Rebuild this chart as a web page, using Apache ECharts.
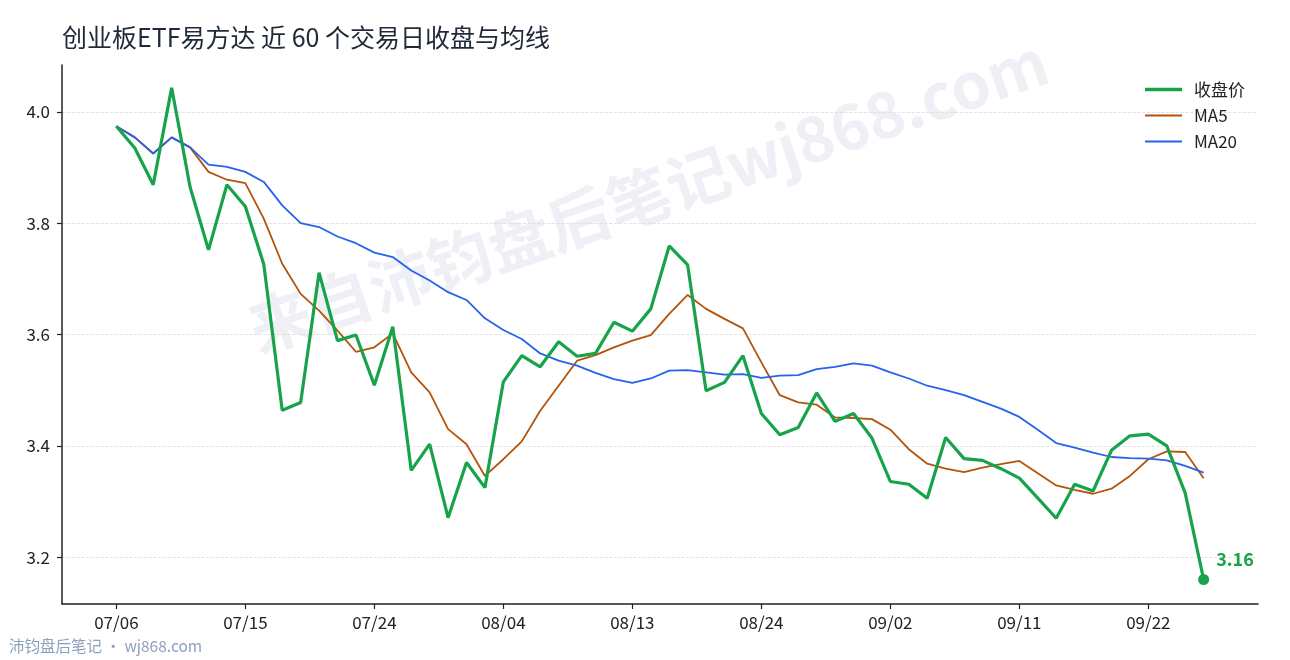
<!DOCTYPE html>
<html>
	<head>
		<meta charset="UTF-8">
		<title>创业板ETF易方达 近 60 个交易日收盘与均线</title>
		<style>
			html, body { margin: 0; padding: 0; background: #fff; }
			#main { width: 1290px; height: 660px; }
		</style>
	</head>
	<body>
		<div id="main"></div>

		<!--引入Echart-->
		<script src="https://cdn.jsdelivr.net/npm/echarts@6/dist/echarts.min.js"></script>
		<script type="text/javascript">
			// 交易日（2026 年 7 月 6 日起的 60 个工作日）
			var dates = [
				'07/06','07/07','07/08','07/09','07/10',
				'07/13','07/14','07/15','07/16','07/17',
				'07/20','07/21','07/22','07/23','07/24',
				'07/27','07/28','07/29','07/30','07/31',
				'08/03','08/04','08/05','08/06','08/07',
				'08/10','08/11','08/12','08/13','08/14',
				'08/17','08/18','08/19','08/20','08/21',
				'08/24','08/25','08/26','08/27','08/28',
				'08/31','09/01','09/02','09/03','09/04',
				'09/07','09/08','09/09','09/10','09/11',
				'09/14','09/15','09/16','09/17','09/18',
				'09/21','09/22','09/23','09/24','09/25'
			];
			// 收盘价
			var closes = [
				3.974, 3.935, 3.869, 4.043, 3.865, 3.752, 3.869, 3.830, 3.726, 3.464,
				3.478, 3.711, 3.589, 3.599, 3.509, 3.614, 3.356, 3.403, 3.271, 3.370,
				3.325, 3.515, 3.562, 3.542, 3.587, 3.561, 3.566, 3.622, 3.606, 3.646,
				3.759, 3.725, 3.499, 3.514, 3.562, 3.458, 3.420, 3.433, 3.495, 3.444,
				3.458, 3.414, 3.336, 3.331, 3.306, 3.415, 3.377, 3.374, 3.359, 3.342,
				3.306, 3.270, 3.331, 3.319, 3.392, 3.418, 3.421, 3.400, 3.315, 3.160
			];
			// MA5
			var ma5 = [
				3.974, 3.954, 3.925, 3.954, 3.936, 3.892, 3.878, 3.872, 3.808, 3.727,
				3.673, 3.643, 3.607, 3.569, 3.577, 3.602, 3.532, 3.496, 3.430, 3.403,
				3.346, 3.376, 3.408, 3.463, 3.508, 3.553, 3.563, 3.577, 3.589, 3.599,
				3.637, 3.671, 3.646, 3.628, 3.611, 3.550, 3.491, 3.478, 3.474, 3.451,
				3.450, 3.448, 3.429, 3.394, 3.368, 3.359, 3.353, 3.361, 3.367, 3.373,
				3.351, 3.329, 3.321, 3.314, 3.323, 3.346, 3.376, 3.390, 3.389, 3.342
			];
			// MA20
			var ma20 = [
				3.974, 3.954, 3.925, 3.954, 3.936, 3.905, 3.901, 3.892, 3.874, 3.832,
				3.800, 3.793, 3.776, 3.764, 3.747, 3.739, 3.715, 3.697, 3.676, 3.662,
				3.629, 3.608, 3.592, 3.566, 3.553, 3.544, 3.531, 3.520, 3.513, 3.521,
				3.535, 3.536, 3.532, 3.528, 3.529, 3.522, 3.526, 3.527, 3.538, 3.542,
				3.548, 3.544, 3.532, 3.521, 3.508, 3.500, 3.491, 3.479, 3.467, 3.452,
				3.429, 3.405, 3.397, 3.388, 3.380, 3.378, 3.377, 3.374, 3.364, 3.352
			];
			// 刻度
			var xTicks = [0, 7, 14, 21, 28, 35, 42, 49, 56];
			var yTicks = [3.2, 3.4, 3.6, 3.8, 4.0];

			function pairs(arr) {
				return arr.map(function(v, i) { return [i, v]; });
			}

			var last = closes.length - 1;
			var font = 'Noto Sans CJK SC';
			var myChart = echarts.init(document.getElementById('main'));

			var option = {
				backgroundColor: '#fff',
				animation: false,
				// 标题
				title: {
					text: '创业板ETF易方达 近 60 个交易日收盘与均线',
					left: 57,
					top: 20,
					textStyle: {
						fontFamily: font,
						fontSize: 25,
						fontWeight: 'normal',
						color: '#1f2937'
					}
				},
				// 图例（图标只画一条线）
				legend: {
					orient: 'vertical',
					left: 1140,
					top: 76,
					itemWidth: 37,
					itemHeight: 14,
					itemGap: 9,
					textStyle: {
						fontFamily: font,
						fontSize: 17,
						color: '#222',
						padding: [0, 0, 0, 7]
					},
					data: [
						{ name: '收盘价', icon: 'path://M0,0H37V3.6H0Z' },
						{ name: 'MA5', icon: 'path://M0,0H37V2H0Z' },
						{ name: 'MA20', icon: 'path://M0,0H37V2H0Z' }
					]
				},
				grid: {
					left: 62,
					right: 32,
					top: 65,
					bottom: 56
				},
				// 水印与页脚
				graphic: [{
					type: 'text',
					x: 648,
					y: 195,
					rotation: 0.33,
					z: -10,
					silent: true,
					style: {
						text: '来自沛钧盘后笔记wj868.com',
						font: 'bold 63px "Noto Sans CJK SC"',
						fill: 'rgba(190,196,215,0.25)',
						textAlign: 'center',
						textVerticalAlign: 'middle'
					}
				}, {
					type: 'text',
					left: 9,
					top: 638,
					silent: true,
					style: {
						text: '沛钧盘后笔记 · wj868.com',
						font: '15.5px "Noto Sans CJK SC"',
						fill: '#8fa0bd'
					}
				}],
				xAxis: {
					type: 'value',
					min: -2.95,
					max: 61.95,
					axisLine: { onZero: false, lineStyle: { color: '#222', width: 1.5 } },
					axisTick: { customValues: xTicks, length: 5, lineStyle: { color: '#222', width: 1.2 } },
					axisLabel: {
						customValues: xTicks,
						margin: 10,
						fontFamily: font,
						fontSize: 17,
						color: '#222',
						formatter: function(v) { return dates[v]; }
					},
					splitLine: { show: false }
				},
				yAxis: {
					type: 'value',
					min: 3.116,
					max: 4.084,
					axisLine: { show: true, onZero: false, lineStyle: { color: '#222', width: 1.5 } },
					axisTick: { show: true, customValues: yTicks, length: 5, lineStyle: { color: '#222', width: 1.2 } },
					axisLabel: {
						customValues: yTicks,
						margin: 12,
						fontFamily: font,
						fontSize: 17,
						color: '#222',
						formatter: function(v) { return v.toFixed(1); }
					},
					splitLine: { show: true, lineStyle: { color: '#dcdcdc', type: 'dashed', width: 0.8 } }
				},
				// 数据
				series: [{
					name: '收盘价',
					type: 'line',
					data: pairs(closes),
					symbol: 'none',
					z: 5,
					itemStyle: { color: '#16a34a' },
					lineStyle: { color: '#16a34a', width: 3.2 }
				}, {
					name: 'MA5',
					type: 'line',
					data: pairs(ma5),
					symbol: 'none',
					z: 3,
					itemStyle: { color: '#b45309' },
					lineStyle: { color: '#b45309', width: 1.8 }
				}, {
					name: 'MA20',
					type: 'line',
					data: pairs(ma20),
					symbol: 'none',
					z: 4,
					itemStyle: { color: '#2563eb' },
					lineStyle: { color: '#2563eb', width: 1.8 }
				}, {
					// 最新收盘点
					name: 'last',
					type: 'scatter',
					data: [[last, closes[last]]],
					symbolSize: 11,
					z: 6,
					itemStyle: { color: '#16a34a', opacity: 1 },
					label: {
						show: true,
						position: 'right',
						offset: [2, -20],
						fontFamily: font,
						fontSize: 18,
						fontWeight: 'bold',
						color: '#16a34a',
						formatter: function(p) { return p.value[1].toFixed(2); }
					}
				}]
			};

			myChart.setOption(option);
		</script>
	</body>
</html>
